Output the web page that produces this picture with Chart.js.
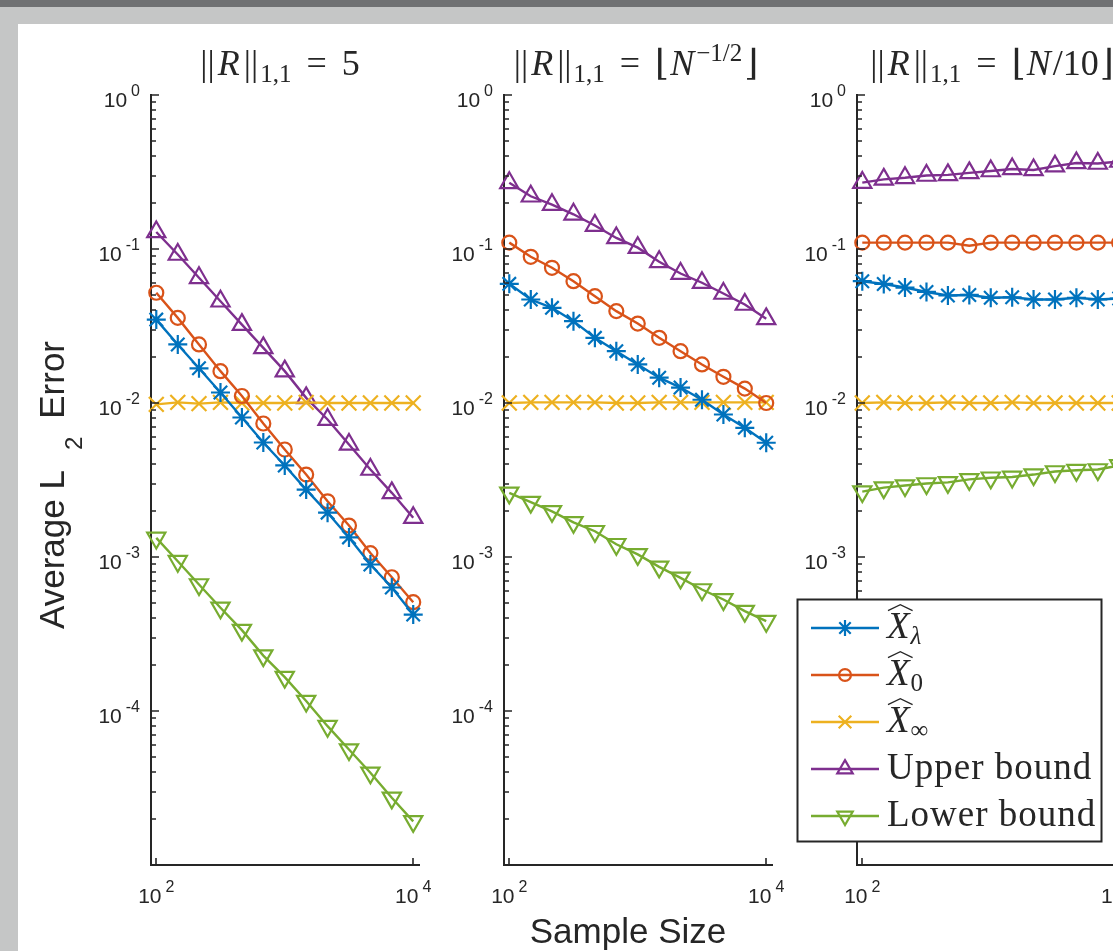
<!DOCTYPE html>
<html>
<head>
<meta charset="utf-8">
<title>Average L2 error vs sample size</title>
<script src="https://cdn.jsdelivr.net/npm/chart.js@4.4.1/dist/chart.umd.min.js"></script>
<style>
  html, body { margin: 0; padding: 0; }
  body { width: 1113px; height: 951px; overflow: hidden; position: relative; background: #ffffff; }
  .band { position: absolute; }
  canvas { position: absolute; left: 0; top: 0; }
</style>
</head>
<body>
<div class="band" style="left:0;top:0;width:1113px;height:7px;background:#707173"></div>
<div class="band" style="left:0;top:7px;width:1113px;height:17px;background:#c5c6c6"></div>
<div class="band" style="left:0;top:24px;width:18px;height:927px;background:#c5c6c6"></div>
<canvas id="p1" width="1200" height="951"></canvas>
<canvas id="p2" width="1200" height="951"></canvas>
<canvas id="p3" width="1200" height="951"></canvas>
<script>
// sample sizes (x), same for the three panels
const sampleSizes = [100, 147, 215, 316, 464, 681, 1000, 1468, 2154, 3162, 4642, 6813, 10000];
const seriesNames = ['X̂λ', 'X̂0', 'X̂∞', 'Upper bound', 'Lower bound'];
const yTickPowers = [0, -1, -2, -3, -4];
const xTickPowers = [2, 4];

// ||R||_{1,1} = 5
const p1Lambda = [0.0348, 0.0240, 0.0168, 0.0117, 0.00805, 0.00554, 0.00393, 0.00274, 0.00194, 0.00134, 0.000894, 0.000634, 0.000423];
const p1Zero   = [0.0520, 0.0357, 0.0240, 0.0161, 0.0111, 0.00736, 0.00499, 0.00343, 0.00230, 0.00160, 0.00106, 0.000739, 0.000509];
const p1Inf    = [0.0098, 0.0101, 0.0099, 0.0101, 0.0100, 0.0100, 0.0100, 0.0101, 0.0100, 0.0100, 0.0100, 0.0100, 0.0100];
const p1Upper  = [0.129, 0.0921, 0.0650, 0.0458, 0.0323, 0.0228, 0.0161, 0.0108, 0.00781, 0.00538, 0.00370, 0.00261, 0.00180];
const p1Lower  = [0.00133, 0.000939, 0.000663, 0.000468, 0.000335, 0.000229, 0.000166, 0.000116, 0.0000797, 0.0000562, 0.0000397, 0.0000273, 0.0000192];

// ||R||_{1,1} = floor(N^-1/2)
const p2Lambda = [0.0594, 0.0470, 0.0415, 0.0340, 0.0265, 0.0217, 0.0178, 0.0146, 0.0126, 0.0105, 0.00842, 0.00690, 0.00552];
const p2Zero   = [0.110, 0.0890, 0.0755, 0.0618, 0.0494, 0.0395, 0.0328, 0.0265, 0.0217, 0.0178, 0.0148, 0.0124, 0.0100];
const p2Inf    = [0.0100, 0.0101, 0.0101, 0.0101, 0.0101, 0.0100, 0.0100, 0.0101, 0.0101, 0.0101, 0.0101, 0.0101, 0.0101];
const p2Upper  = [0.269, 0.220, 0.194, 0.168, 0.142, 0.118, 0.102, 0.0826, 0.0693, 0.0604, 0.0514, 0.0436, 0.0352];
const p2Lower  = [0.00261, 0.00227, 0.00198, 0.00168, 0.00147, 0.00121, 0.00104, 0.000863, 0.000732, 0.000615, 0.000530, 0.000445, 0.000383];

// ||R||_{1,1} = floor(N/10)
const p3Lambda = [0.0618, 0.0593, 0.0562, 0.0526, 0.0499, 0.0503, 0.0482, 0.0486, 0.0470, 0.0470, 0.0482, 0.0470, 0.0477];
const p3Zero   = [0.110, 0.110, 0.110, 0.110, 0.110, 0.105, 0.110, 0.110, 0.110, 0.110, 0.110, 0.110, 0.110];
const p3Inf    = [0.0100, 0.0101, 0.0100, 0.0100, 0.0101, 0.0100, 0.0100, 0.0101, 0.0100, 0.0100, 0.0100, 0.0100, 0.0100];
const p3Upper  = [0.270, 0.283, 0.290, 0.300, 0.303, 0.312, 0.321, 0.331, 0.326, 0.345, 0.362, 0.359, 0.370];
const p3Lower  = [0.00266, 0.00282, 0.00291, 0.00300, 0.00305, 0.00319, 0.00327, 0.00331, 0.00343, 0.00359, 0.00366, 0.00370, 0.00393];

// styles
const colors = ['#0072BD', '#D95319', '#EDB120', '#7E2F8E', '#77AC30'];
const markers = [
  { style: 'star', r: 9.5, rot: 0 },
  { style: 'circle', r: 7, rot: 0 },
  { style: 'crossRot', r: 10.5, rot: 0 },
  { style: 'triangle', r: 10.5, rot: 0 },
  { style: 'triangle', r: 10.5, rot: 180 }
];
const INK = '#262626';
const SERIF = '"Liberation Serif", "DejaVu Serif", serif';
const SANS = '"Liberation Sans", Arial, Helvetica, sans-serif';

// --- small text helpers -------------------------------------------------
function segFont(s) {
  return (s.it ? 'italic ' : '') + (s.size || 36) + 'px ' + (s.fam || SERIF);
}
// draws a row of text pieces (sub/superscripts, hats) at baseline y
function drawRich(ctx, segs, x, y, align) {
  let w = 0;
  segs.forEach(s => {
    ctx.font = segFont(s);
    ctx.letterSpacing = (s.ls || 0) + 'px';
    s.w = ctx.measureText(s.t).width;
    w += s.w + (s.sp || 0);
  });
  let cx = align === 'center' ? x - w / 2 : (align === 'right' ? x - w : x);
  segs.forEach(s => {
    ctx.font = segFont(s);
    ctx.letterSpacing = (s.ls || 0) + 'px';
    ctx.fillText(s.t, cx, y + (s.dy || 0));
    if (s.hat) {
      const by = y + (s.dy || 0) - s.size * 0.74;
      ctx.beginPath();
      ctx.lineWidth = 1.3;
      ctx.moveTo(cx + 1, by);
      ctx.lineTo(cx + s.w / 2 + 2, by - 6);
      ctx.lineTo(cx + s.w + 3, by);
      ctx.stroke();
    }
    cx += s.w + (s.sp || 0);
  });
  ctx.letterSpacing = '0px';
}
// "10" with a raised exponent, like MATLAB log tick labels
function powerLabel(ctx, exp, x, y, align) {
  const sup = String(exp);
  ctx.font = '21px ' + SANS;
  const wb = ctx.measureText('10').width;
  ctx.font = '16px ' + SANS;
  const ws = ctx.measureText(sup).width;
  const w = wb + 4 + ws;
  const left = align === 'right' ? x - w : x - w / 2;
  ctx.font = '21px ' + SANS;
  ctx.fillText('10', left, y);
  ctx.font = '16px ' + SANS;
  ctx.fillText(sup, left + wb + 4, y - 11);
}
function legendLabel(name) {
  if (name.startsWith('X̂')) {
    return [
      { t: 'X', it: true, size: 37, hat: true, sp: 1 },
      { t: name.slice(2), it: name.slice(2) === 'λ', size: 25, dy: 6 }
    ];
  }
  return [{ t: name, size: 37, ls: 1 }];
}

// axes, ticks, labels, title, legend (MATLAB look)
const matlabAxes = {
  id: 'matlabAxes',
  afterDraw(chart, args, opts) {
    const ctx = chart.ctx;
    const xs = chart.scales.x, ys = chart.scales.y;
    const area = chart.chartArea;
    ctx.save();
    ctx.strokeStyle = INK;
    ctx.fillStyle = INK;
    ctx.textAlign = 'left';
    ctx.textBaseline = 'alphabetic';

    // inward ticks on y (log minor ticks too)
    const ax = Math.round(area.left);
    ctx.lineWidth = 1.6;
    ctx.beginPath();
    for (let e = -6; e <= 0; e++) {
      for (let m = 1; m <= 9; m++) {
        const v = m * Math.pow(10, e);
        if (v < ys.min * 0.999 || v > ys.max * 1.001) continue;
        const py = Math.round(ys.getPixelForValue(v));
        ctx.moveTo(ax, py);
        ctx.lineTo(ax + (m === 1 ? 8 : 5), py);
      }
    }
    // inward ticks on x
    const ay = Math.round(area.bottom);
    xTickPowers.forEach(e => {
      const px = Math.round(xs.getPixelForValue(Math.pow(10, e)));
      ctx.moveTo(px, ay);
      ctx.lineTo(px, ay - 7);
    });
    ctx.stroke();

    // tick labels
    yTickPowers.forEach(e => {
      powerLabel(ctx, e, ax - 11, ys.getPixelForValue(Math.pow(10, e)) + 12, 'right');
    });
    xTickPowers.forEach(e => {
      powerLabel(ctx, e, xs.getPixelForValue(Math.pow(10, e)), 903, 'center');
    });

    // title
    drawRich(ctx, opts.title, opts.titleX, 75, 'center');

    if (opts.ylabel) {
      ctx.save();
      ctx.translate(64, 485);
      ctx.rotate(-Math.PI / 2);
      drawRich(ctx, [
        { t: 'Average L', size: 35, fam: SANS, sp: 20 },
        { t: '2', size: 24, fam: SANS, dy: 18, sp: 18 },
        { t: 'Error', size: 35, fam: SANS }
      ], 0, 0, 'center');
      ctx.restore();
    }
    if (opts.xlabel) {
      drawRich(ctx, [{ t: 'Sample Size', size: 35, fam: SANS }], 628, 943, 'center');
    }

    if (opts.legend) {
      const bx = 797.5, by = 599.5, bw = 304, bh = 242;
      ctx.fillStyle = '#ffffff';
      ctx.fillRect(bx, by, bw, bh);
      ctx.lineWidth = 2;
      ctx.strokeStyle = INK;
      ctx.strokeRect(bx, by, bw, bh);
      chart.data.datasets.forEach((ds, i) => {
        const ly = 628 + 47 * i;
        ctx.strokeStyle = ds.borderColor;
        ctx.lineWidth = ds.borderWidth;
        ctx.beginPath();
        ctx.moveTo(811, ly);
        ctx.lineTo(879, ly);
        ctx.stroke();
        ctx.fillStyle = 'rgba(0,0,0,0)';
        ctx.lineWidth = ds.pointBorderWidth;
        Chart.helpers.drawPoint(ctx, {
          pointStyle: ds.pointStyle, radius: ds.pointRadius * 0.85,
          rotation: ds.pointRotation, borderWidth: ds.pointBorderWidth
        }, 845, ly);
        ctx.fillStyle = INK;
        ctx.strokeStyle = INK;
        drawRich(ctx, legendLabel(ds.label), 887, ly + 10, 'left');
      });
    }
    ctx.restore();
  }
};

function makePanel(id, values, left, right, opts) {
  const datasets = values.map((data, i) => ({
    label: seriesNames[i],
    data: data,
    borderColor: colors[i],
    backgroundColor: 'rgba(0,0,0,0)',
    borderWidth: 2.4,
    tension: 0,
    pointStyle: markers[i].style,
    pointRadius: markers[i].r,
    pointRotation: markers[i].rot,
    pointBorderWidth: 2.2,
    pointBorderColor: colors[i],
    pointBackgroundColor: 'rgba(0,0,0,0)',
    clip: false
  }));
  return new Chart(document.getElementById(id), {
    type: 'line',
    data: { labels: sampleSizes, datasets: datasets },
    options: {
      responsive: false,
      animation: false,
      events: [],
      layout: { padding: { left: left, right: 1200 - right, top: 95, bottom: 951 - 865 } },
      scales: {
        x: {
          type: 'logarithmic',
          min: Math.pow(10, 1.955), max: Math.pow(10, 4.045),
          grid: { display: false, drawTicks: false, tickLength: 0 },
          ticks: { display: false },
          border: { display: true, color: INK, width: 2 }
        },
        y: {
          type: 'logarithmic',
          min: 1e-5, max: 1,
          grid: { display: false, drawTicks: false, tickLength: 0 },
          ticks: { display: false },
          border: { display: true, color: INK, width: 2 }
        }
      },
      plugins: {
        legend: { display: false },
        tooltip: { enabled: false },
        matlabAxes: opts
      }
    },
    plugins: [matlabAxes]
  });
}

const normR = [
  { t: '||', sp: 3 }, { t: 'R', it: true, sp: 4 }, { t: '||', sp: 2 },
  { t: '1,1', size: 25, dy: 7, sp: 15 }, { t: '=', sp: 15 }
];

makePanel('p1', [p1Lambda, p1Zero, p1Inf, p1Upper, p1Lower], 150.5, 419, {
  title: normR.concat([{ t: '5' }]), titleX: 280, ylabel: true
});
makePanel('p2', [p2Lambda, p2Zero, p2Inf, p2Upper, p2Lower], 503.5, 772, {
  title: normR.concat([{ t: '⌊', sp: 1 }, { t: 'N', it: true, sp: 2 }, { t: '−1/2', size: 25, dy: -14, sp: 2 }, { t: '⌋' }]),
  titleX: 636, xlabel: true
});
makePanel('p3', [p3Lambda, p3Zero, p3Inf, p3Upper, p3Lower], 856.5, 1125, {
  title: normR.concat([{ t: '⌊', sp: 1 }, { t: 'N', it: true, sp: 2 }, { t: '/10', sp: 1 }, { t: '⌋' }]),
  titleX: 992, legend: true
});
</script>
</body>
</html>
